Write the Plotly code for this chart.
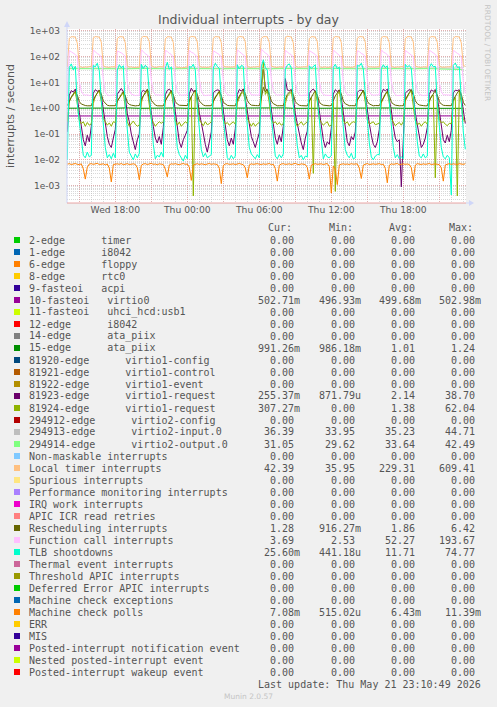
import pandas as pd
import plotly.graph_objects as go

# ---------------- data ----------------
times_10min = pd.date_range('2026-05-20 14:00', periods=200, freq='10min')
times_hourly = pd.date_range('2026-05-20 14:00', periods=34, freq='h')

local_timer = (
    [40, 510, 585, 580, 570, 330, 42, 39, 38, 40, 39, 41] +
    [41, 530, 590, 578, 565, 360, 44, 40, 39, 38, 40, 39] +
    [40, 500, 580, 585, 572, 340, 43, 39, 40, 38, 39, 40] +
    [39, 520, 600, 590, 575, 380, 45, 40, 38, 39, 41, 40] +
    [40, 480, 585, 580, 568, 350, 42, 38, 39, 36, 38, 39] +
    [40, 540, 595, 588, 570, 365, 43, 39, 40, 39, 38, 40] +
    [41, 515, 588, 583, 574, 345, 44, 40, 39, 38, 39, 40] +
    [40, 525, 592, 586, 569, 370, 42, 39, 38, 40, 39, 41] +
    [40, 505, 583, 590, 576, 355, 43, 40, 39, 38, 40, 39] +
    [39, 535, 609, 592, 571, 340, 45, 39, 38, 39, 40, 40] +
    [40, 495, 586, 581, 566, 375, 42, 38, 39, 40, 38, 39] +
    [40, 520, 590, 585, 570, 350, 43, 39, 40, 39, 38, 40] +
    [41, 510, 587, 588, 573, 360, 44, 40, 39, 38, 39, 40] +
    [40, 530, 594, 582, 568, 345, 42, 39, 38, 40, 39, 41] +
    [40, 500, 585, 589, 575, 365, 43, 40, 39, 38, 40, 39] +
    [39, 525, 591, 584, 570, 355, 44, 39, 38, 39, 40, 40] +
    [40, 515, 588, 586, 572, 340, 44, 42.39]
)

function_call = (
    [3.2, 170, 152, 135, 120, 98, 11, 4.6, 3.4, 3.2, 3.3, 3.1] +
    [3.2, 180, 148, 130, 118, 92, 13, 4.2, 3.3, 3.1, 3.2, 3.3] +
    [3.3, 165, 155, 138, 122, 100, 10, 4.8, 3.5, 3.2, 3.1, 3.2] +
    [3.1, 185, 150, 128, 115, 95, 12, 4.4, 3.3, 3.3, 3.2, 3.1] +
    [3.2, 172, 158, 132, 121, 90, 11, 4.5, 3.4, 3.2, 3.3, 3.2] +
    [3.3, 178, 146, 136, 117, 97, 14, 4.7, 3.3, 3.1, 3.2, 3.3] +
    [3.2, 168, 153, 131, 119, 93, 12, 4.3, 3.4, 3.2, 3.1, 3.2] +
    [3.1, 182, 149, 134, 116, 99, 10, 4.6, 3.3, 3.3, 3.2, 3.1] +
    [3.2, 193.67, 156, 137, 123, 96, 13, 4.9, 3.5, 3.2, 3.3, 3.2] +
    [3.3, 175, 147, 129, 118, 91, 11, 4.4, 3.3, 3.1, 3.2, 3.3] +
    [3.2, 171, 154, 133, 120, 98, 12, 4.5, 3.4, 3.2, 3.1, 3.2] +
    [3.1, 179, 151, 135, 117, 94, 10, 4.7, 3.3, 3.3, 3.2, 3.1] +
    [3.2, 167, 157, 130, 122, 97, 13, 4.3, 3.4, 3.2, 3.3, 3.2] +
    [3.3, 184, 148, 136, 119, 92, 11, 4.6, 3.3, 3.1, 3.2, 3.3] +
    [3.2, 173, 152, 132, 116, 99, 12, 4.8, 3.4, 3.2, 3.1, 3.2] +
    [3.1, 177, 155, 134, 121, 95, 10, 4.4, 3.3, 3.3, 3.2, 3.1] +
    [3.2, 176, 150, 133, 120, 93, 11, 3.69]
)

tlb_shootdowns = (
    [0.010, 38, 52, 30, 42, 1.5, 0.3, 0.05, 0.015, 0.012, 0.02, 0.013] +
    [0.015, 45, 40, 55, 28, 2.0, 0.2, 0.03, 0.012, 0.016, 0.011, 0.018] +
    [0.012, 30, 48, 36, 44, 1.2, 0.15, 0.02, 0.014, 0.010, 0.017, 0.012] +
    [0.018, 50, 34, 46, 38, 2.5, 0.4, 0.04, 0.011, 0.015, 0.013, 0.02] +
    [0.013, 35, 60, 32, 40, 1.8, 0.25, 0.03, 0.016, 0.012, 0.009, 0.015] +
    [0.011, 42, 38, 50, 30, 1.1, 0.18, 0.025, 0.013, 0.018, 0.012, 0.014] +
    [0.016, 36, 55, 41, 35, 2.2, 0.35, 0.04, 0.012, 0.010, 0.015, 0.011] +
    [0.014, 48, 33, 45, 42, 1.6, 0.2, 0.03, 0.017, 0.013, 0.011, 0.016] +
    [0.012, 40, 74.77, 38, 30, 2.8, 0.45, 0.05, 0.014, 0.011, 0.016, 0.012] +
    [0.017, 33, 46, 52, 36, 1.4, 0.22, 0.035, 0.012, 0.015, 0.010, 0.014] +
    [0.013, 44, 35, 40, 48, 2.1, 0.3, 0.04, 0.011, 0.017, 0.013, 0.012] +
    [0.015, 38, 50, 34, 39, 1.3, 0.16, 0.025, 0.015, 0.012, 0.018, 0.011] +
    [0.012, 46, 42, 55, 33, 2.4, 0.38, 0.045, 0.013, 0.010, 0.014, 0.016] +
    [0.016, 34, 48, 37, 44, 1.7, 0.24, 0.03, 0.012, 0.016, 0.011, 0.013] +
    [0.011, 50, 39, 45, 35, 2.6, 0.4, 0.05, 0.014, 0.012, 0.017, 0.012] +
    [0.014, 37, 53, 40, 42, 1.5, 0.2, 0.03, 0.013, 0.011, 0.015, 0.012] +
    [0.00044, 45, 56, 38, 40, 1.9, 0.12, 0.0256]
)

virtio1_request_a = (
    [0.12, 3.2, 4.8, 4.2, 5.5, 2.5, 0.7, 0.18, 0.06, 0.035, 0.09, 0.05] +
    [0.2, 3.8, 5.2, 4.5, 4.8, 3.0, 0.9, 0.25, 0.08, 0.04, 0.03, 0.07] +
    [0.15, 3.5, 4.6, 5.8, 4.4, 2.8, 0.6, 0.3, 0.1, 0.05, 0.025, 0.06] +
    [0.1, 4.0, 5.0, 4.3, 5.2, 2.2, 0.8, 0.2, 0.07, 0.045, 0.08, 0.04] +
    [0.18, 3.3, 4.9, 5.4, 4.6, 3.2, 0.75, 0.22, 0.05, 0.03, 0.06, 0.09] +
    [0.14, 3.6, 6.0, 4.4, 5.0, 2.6, 0.65, 0.28, 0.09, 0.04, 0.02, 0.05] +
    [0.12, 3.9, 4.7, 5.1, 4.9, 2.9, 0.85, 0.24, 0.06, 0.035, 0.07, 0.04] +
    [0.16, 3.4, 5.3, 4.6, 5.6, 2.4, 0.7, 0.2, 0.08, 0.05, 0.03, 0.06] +
    [0.11, 8.0, 38.7, 6.0, 5.0, 3.1, 0.9, 0.3, 0.07, 0.04, 0.09, 0.05] +
    [0.2, 14, 5.1, 4.8, 5.3, 2.7, 0.6, 0.25, 0.1, 0.045, 0.025, 0.07] +
    [0.13, 3.7, 4.8, 5.5, 4.5, 3.0, 0.8, 0.22, 0.06, 0.03, 0.05, 0.04] +
    [0.17, 3.5, 5.2, 4.4, 5.1, 2.5, 0.7, 0.18, 0.05, 0.035, 0.08, 0.06] +
    [0.12, 4.1, 4.9, 5.0, 4.7, 2.9, 0.75, 0.26, 0.09, 0.04, 0.03, 0.05] +
    [0.15, 3.6, 5.4, 4.7, 5.5, 2.3, 0.85, 0.2, 0.07, 0.05, 0.06, 0.0009] +
    [0.1, 3.8, 4.6, 5.2, 4.9, 3.1, 0.65, 0.24, 0.08, 0.03, 0.04, 0.07] +
    [0.18, 3.4, 5.1, 4.5, 5.3, 2.6, 0.8, 0.21, 0.06, 0.045, 0.09, 0.05] +
    [0.14, 3.9, 5.0, 4.8, 5.2, 2.7, 0.9, 0.255]
)

virtio1_request_b = (
    [0.3, 1.8, 2.6, 3.4, 4.2, 1.5, 0.35, 0.25, 0.3, 0.2, 0.28, 0.22] +
    [0.25, 1.5, 2.9, 3.8, 4.6, 1.8, 0.4, 0.3, 0.22, 0.27, 0.2, 0.3] +
    [0.28, 2.0, 2.4, 3.1, 4.0, 1.3, 0.3, 0.2, 0.26, 0.32, 0.24, 0.2] +
    [0.22, 1.6, 3.0, 3.6, 4.8, 1.6, 0.38, 0.28, 0.2, 0.25, 0.3, 0.26] +
    [0.3, 1.9, 2.7, 3.3, 4.4, 1.4, 0.33, 0.22, 0.29, 0.2, 0.25, 0.3] +
    [0.26, 1.7, 2.8, 0.0004, 4.3, 1.7, 0.36, 0.27, 0.21, 0.3, 0.23, 0.25] +
    [0.3, 1.8, 2.8, 3.2, 4.5, 1.5, 0.34, 0.24, 0.28, 0.22, 0.26, 0.3] +
    [0.24, 1.6, 2.5, 3.7, 4.1, 1.9, 0.4, 0.3, 0.2, 0.27, 0.2, 0.25] +
    [0.28, 2.1, 62.04, 3.4, 4.7, 1.6, 0.35, 0.26, 0.3, 0.23, 0.28, 0.22] +
    [0.25, 1.5, 2.9, 3.5, 4.2, 1.4, 0.3, 0.2, 0.25, 0.3, 0.22, 0.27] +
    [0.3, 1.8, 2.6, 0.003, 4.5, 1.8, 0.38, 0.28, 0.22, 0.26, 0.3, 0.2] +
    [0.22, 1.7, 0.0006, 3.3, 4.4, 1.5, 0.34, 0.25, 0.3, 0.21, 0.27, 0.3] +
    [0.28, 2.0, 2.8, 3.6, 4.9, 1.7, 0.36, 0.24, 0.26, 0.3, 0.23, 0.25] +
    [0.26, 1.6, 2.5, 3.4, 4.3, 1.6, 0.4, 0.3, 0.21, 0.25, 0.28, 0.22] +
    [0.3, 1.9, 2.7, 3.8, 4.6, 1.4, 0.33, 0.22, 0.27, 0.2, 0.26, 0.3] +
    [0.24, 1.7, 2.9, 3.2, 0.002, 1.8, 0.37, 0.27, 0.3, 0.24, 0.21, 0.26] +
    [0.25, 1.8, 2.6, 0.0004, 4.5, 1.6, 0.35, 0.307]
)

rescheduling = (
    [1.26, 1.9, 2.7, 3.6, 4.6, 3.2, 1.8, 1.45, 1.32, 1.27, 1.24, 1.25] +
    [1.24, 2.1, 3.0, 3.9, 5.1, 3.6, 1.9, 1.5, 1.3, 1.25, 1.27, 1.23] +
    [1.25, 1.8, 2.6, 3.4, 4.4, 3.0, 1.7, 1.4, 1.31, 1.26, 1.23, 1.26] +
    [1.27, 2.2, 3.2, 4.1, 5.4, 3.8, 2.0, 1.55, 1.33, 1.24, 1.26, 1.25] +
    [1.23, 1.9, 2.8, 3.7, 4.8, 3.3, 1.8, 1.45, 1.3, 1.27, 1.25, 1.24] +
    [1.26, 2.0, 2.9, 3.8, 5.0, 3.5, 1.9, 1.5, 1.32, 1.25, 1.24, 1.27] +
    [1.25, 1.8, 2.7, 3.5, 4.5, 3.1, 1.7, 1.42, 1.29, 1.26, 1.25, 1.23] +
    [1.24, 2.1, 3.1, 4.0, 5.2, 3.7, 2.0, 1.52, 1.31, 1.25, 1.27, 1.26] +
    [1.26, 2.4, 6.42, 4.3, 5.3, 3.6, 1.9, 1.5, 1.33, 1.24, 1.25, 1.25] +
    [1.25, 2.2, 3.4, 4.2, 5.0, 3.4, 1.8, 1.47, 1.3, 1.26, 1.24, 1.26] +
    [1.23, 1.9, 2.8, 3.6, 4.7, 3.2, 1.75, 1.43, 1.31, 1.27, 1.25, 1.24] +
    [1.27, 2.0, 3.0, 3.9, 5.1, 3.6, 1.9, 1.48, 1.32, 1.25, 1.26, 1.25] +
    [1.24, 2.1, 2.9, 3.8, 4.9, 3.4, 1.85, 1.46, 1.3, 1.24, 1.27, 1.26] +
    [1.26, 1.8, 2.7, 3.5, 4.6, 3.1, 1.75, 1.44, 1.31, 1.26, 1.24, 1.25] +
    [1.25, 2.2, 3.1, 4.0, 5.3, 3.7, 1.95, 1.5, 1.33, 1.25, 1.26, 1.24] +
    [1.24, 2.0, 2.8, 3.7, 4.8, 3.3, 1.8, 1.45, 1.3, 1.27, 1.25, 1.26] +
    [1.25, 2.1, 3.0, 3.9, 5.0, 3.5, 1.7, 1.28]
)

machine_check_polls = (
    [0.0068, 0.0071, 0.0066, 0.0069, 0.0072, 0.0067, 0.0065, 0.0070, 0.0045, 0.0018, 0.0052, 0.0069] +
    [0.0071, 0.0067, 0.0069, 0.0073, 0.0066, 0.0068, 0.0070, 0.0064, 0.0069, 0.0048, 0.0014, 0.0066] +
    [0.0068, 0.0070, 0.0067, 0.0072, 0.0065, 0.0069, 0.0071, 0.0066, 0.0068, 0.0070, 0.0067, 0.0050] +
    [0.0017, 0.0062, 0.0069, 0.0071, 0.0066, 0.0068, 0.0073, 0.0067, 0.0069, 0.0065, 0.0070, 0.0068] +
    [0.0066, 0.0044, 0.0022, 0.0064, 0.0070, 0.0068, 0.0071, 0.0067, 0.0065, 0.0069, 0.0072, 0.0067] +
    [0.0069, 0.0052, 0.0016, 0.0063, 0.0068, 0.0071, 0.0066, 0.0070, 0.0068, 0.0065, 0.0069, 0.0072] +
    [0.0067, 0.0070, 0.0068, 0.0066, 0.0047, 0.0012, 0.0061, 0.0069, 0.0071, 0.0067, 0.0068, 0.0070] +
    [0.0066, 0.0069, 0.0072, 0.0068, 0.0065, 0.0049, 0.0020, 0.0064, 0.0070, 0.0067, 0.0069, 0.0071] +
    [0.0068, 0.0066, 0.0070, 0.0067, 0.0069, 0.0072, 0.0065, 0.0068, 0.0046, 0.0015, 0.0062, 0.0069] +
    [0.0071, 0.0067, 0.0068, 0.0070, 0.0066, 0.0069, 0.0073, 0.0067, 0.0065, 0.0070, 0.0068, 0.0066] +
    [0.0051, 0.0018, 0.0063, 0.0069, 0.0071, 0.0067, 0.0068, 0.0070, 0.0066, 0.0069, 0.0072, 0.0055] +
    [0.00052, 0.0058, 0.0044, 0.0011, 0.0064, 0.0068, 0.0070, 0.0067, 0.0069, 0.0066, 0.0071, 0.0068] +
    [0.0067, 0.0070, 0.0048, 0.0019, 0.0063, 0.0069, 0.0072, 0.0066, 0.0068, 0.0070, 0.0067, 0.0069] +
    [0.0071, 0.0066, 0.0068, 0.0047, 0.0013, 0.0062, 0.0070, 0.0067, 0.0069, 0.0072, 0.0065, 0.0068] +
    [0.0070, 0.0067, 0.0069, 0.0066, 0.0050, 0.0016, 0.0063, 0.0071, 0.0068, 0.0066, 0.0070, 0.0067] +
    [0.0069, 0.0072, 0.0066, 0.0068, 0.0070, 0.0067, 0.0065, 0.0049, 0.0015, 0.0064, 0.0069, 0.0071] +
    [0.0067, 0.0070, 0.0068, 0.0066, 0.0071, 0.0069, 0.0067, 0.00708]
)

virtio0 = [0.500, 0.499, 0.501, 0.498, 0.500, 0.502, 0.499, 0.500, 0.497, 0.501, 0.500, 0.499,
           0.502, 0.500, 0.498, 0.501, 0.499, 0.500, 0.503, 0.499, 0.500, 0.498, 0.501, 0.500,
           0.499, 0.502, 0.500, 0.498, 0.501, 0.499, 0.500, 0.501, 0.499, 0.503]
ata_piix = [1.00, 1.02, 0.99, 1.01, 1.00, 1.03, 0.99, 1.01, 1.00, 1.02, 0.99, 1.00,
            1.01, 1.00, 1.02, 0.99, 1.01, 1.00, 1.03, 0.99, 1.00, 1.01, 1.00, 1.02,
            0.99, 1.01, 1.00, 1.02, 0.99, 1.00, 1.01, 1.00, 1.02, 0.99]
virtio2_input = [35.6, 35.2, 35.8, 35.0, 35.5, 35.1, 35.9, 35.0, 35.4, 35.2, 35.7, 34.9,
                 35.6, 35.3, 35.8, 35.0, 35.5, 35.2, 35.9, 35.0, 35.4, 35.2, 35.7, 35.1,
                 35.6, 35.2, 35.8, 35.0, 35.5, 35.2, 35.8, 35.1, 35.6, 36.39]
virtio2_output = [33.9, 33.4, 34.1, 33.3, 33.8, 33.5, 34.2, 33.3, 33.7, 33.5, 34.0, 33.2,
                  33.9, 33.5, 34.1, 33.3, 33.8, 33.4, 34.2, 33.3, 33.7, 33.5, 34.0, 33.4,
                  33.9, 33.4, 34.1, 33.3, 33.8, 33.5, 34.1, 33.3, 33.9, 31.05]

# axis ticks
y_tick_values = [1e-3, 1e-2, 1e-1, 1e0, 1e1, 1e2, 1e3]
y_tick_labels = ['1e-03', '1e-02', '1e-01', '1e+00', '1e+01', '1e+02', '1e+03']
x_tick_values = ['2026-05-20 15:00', '2026-05-20 18:00', '2026-05-20 21:00', '2026-05-21 00:00',
                 '2026-05-21 03:00', '2026-05-21 06:00', '2026-05-21 09:00', '2026-05-21 12:00',
                 '2026-05-21 15:00', '2026-05-21 18:00', '2026-05-21 21:00']
x_tick_labels = ['', 'Wed 18:00', '', 'Thu 00:00', '', 'Thu 06:00', '', 'Thu 12:00', '', 'Thu 18:00', '']

# legend table
legend_labels = [
    '2-edge      timer', '1-edge      i8042', '6-edge      floppy', '8-edge      rtc0',
    '9-fasteoi   acpi', '10-fasteoi   virtio0', '11-fasteoi   uhci_hcd:usb1',
    '12-edge      i8042', '14-edge      ata_piix', '15-edge      ata_piix',
    '81920-edge      virtio1-config', '81921-edge      virtio1-control',
    '81922-edge      virtio1-event', '81923-edge      virtio1-request',
    '81924-edge      virtio1-request', '294912-edge      virtio2-config',
    '294913-edge      virtio2-input.0', '294914-edge      virtio2-output.0',
    'Non-maskable interrupts', 'Local timer interrupts', 'Spurious interrupts',
    'Performance monitoring interrupts', 'IRQ work interrupts', 'APIC ICR read retries',
    'Rescheduling interrupts', 'Function call interrupts', 'TLB shootdowns',
    'Thermal event interrupts', 'Threshold APIC interrupts', 'Deferred Error APIC interrupts',
    'Machine check exceptions', 'Machine check polls', 'ERR', 'MIS',
    'Posted-interrupt notification event', 'Nested posted-interrupt event',
    'Posted-interrupt wakeup event']
Z = '0.00'
legend_cur = [Z, Z, Z, Z, Z, '502.71m', Z, Z, Z, '991.26m', Z, Z, Z, '255.37m', '307.27m', Z,
              '36.39', '31.05', Z, '42.39', Z, Z, Z, Z, '1.28', '3.69', '25.60m', Z, Z, Z, Z,
              '7.08m', Z, Z, Z, Z, Z]
legend_min = [Z, Z, Z, Z, Z, '496.93m', Z, Z, Z, '986.18m', Z, Z, Z, '871.79u', Z, Z,
              '33.95', '29.62', Z, '35.95', Z, Z, Z, Z, '916.27m', '2.53', '441.18u', Z, Z, Z, Z,
              '515.02u', Z, Z, Z, Z, Z]
legend_avg = [Z, Z, Z, Z, Z, '499.68m', Z, Z, Z, '1.01', Z, Z, Z, '2.14', '1.38', Z,
              '35.23', '33.64', Z, '229.31', Z, Z, Z, Z, '1.86', '52.27', '11.71', Z, Z, Z, Z,
              '6.43m', Z, Z, Z, Z, Z]
legend_max = [Z, Z, Z, Z, Z, '502.98m', Z, Z, Z, '1.24', Z, Z, Z, '38.70', '62.04', Z,
              '44.71', '42.49', Z, '609.41', Z, Z, Z, Z, '6.42', '193.67', '74.77', Z, Z, Z, Z,
              '11.39m', Z, Z, Z, Z, Z]

# ---------------- styles ----------------
palette = ['#00CC00', '#0066B3', '#FF8000', '#FFCC00', '#330099', '#990099', '#CCFF00', '#FF0000',
           '#808080', '#008F00', '#00487D', '#B35A00', '#B38F00', '#6B006B', '#8FB300', '#B30000',
           '#BEBEBE', '#80FF80', '#80C9FF', '#FFC080', '#FFE680', '#AA80FF', '#EE00CC', '#FF8080',
           '#666600', '#FFBFFF', '#00FFCC', '#CC6699', '#999900']
row_colors = [palette[i % len(palette)] for i in range(len(legend_labels))]

W, H = 497, 707
L, R, T, B = 67, 31, 29, 504
PW, PH = W - L - R, H - T - B
TXT = '#555555'
MONO = 'DejaVu Sans Mono'
SANS = 'DejaVu Sans'
MAJOR = 'rgba(230,140,140,0.55)'
MINOR = 'rgba(185,185,185,0.55)'
AXISC = '#CFD6F8'


def px(x):
    return (x - L) / PW


def py(y):
    return 1 - (y - T) / PH


def note(x, y, text, size, family=MONO, color=TXT, xanchor='left', angle=0):
    return dict(x=px(x), y=py(y), xref='paper', yref='paper', text=text, showarrow=False,
                font=dict(family=family, size=size, color=color), xanchor=xanchor,
                yanchor='middle', textangle=angle)


fig = go.Figure()

series = [
    (times_hourly, virtio0, 5),
    (times_hourly, ata_piix, 9),
    (times_10min, virtio1_request_a, 13),
    (times_10min, virtio1_request_b, 14),
    (times_hourly, virtio2_input, 16),
    (times_hourly, virtio2_output, 17),
    (times_10min, local_timer, 19),
    (times_10min, rescheduling, 24),
    (times_10min, function_call, 25),
    (times_10min, tlb_shootdowns, 26),
    (times_10min, machine_check_polls, 31),
]
for xs, ys, idx in series:
    fig.add_trace(go.Scatter(x=list(xs), y=ys, mode='lines', name=legend_labels[idx],
                             line=dict(color=row_colors[idx], width=1), showlegend=False,
                             hoverinfo='skip'))

annotations = []
shapes = []

annotations.append(note(248.5, 19.5, 'Individual interrupts - by day', 12.5, SANS, xanchor='center'))
annotations.append(note(487.5, 53, 'RRDTOOL / TOBI OETIKER', 7.5, SANS, '#C4C4C4', 'center', 90))

for label, xl in zip(['Cur:', 'Min:', 'Avg:', 'Max:'], [266, 326.7, 386.7, 446.7]):
    annotations.append(note(xl, 227.5, label, 10))

col_right = [301.7, 362.7, 422.7, 482.7]
for j, lab in enumerate(legend_labels):
    yc = 240 + 12 * j
    shapes.append(dict(type='rect', xref='paper', yref='paper', x0=px(14), x1=px(20),
                       y0=py(yc - 3), y1=py(yc + 3), fillcolor=row_colors[j],
                       line=dict(width=0), layer='above'))
    annotations.append(note(26.5, yc, lab.replace(' ', '\u00a0'), 10))
    for col, vals in enumerate([legend_cur, legend_min, legend_avg, legend_max]):
        v = vals[j]
        xr = col_right[col] - (0 if v[-1].isalpha() else 6.0)
        annotations.append(note(xr, yc, v, 10, xanchor='right'))

annotations.append(note(482.7, 684, 'Last update: Thu May 21 23:10:49 2026', 10, xanchor='right'))
annotations.append(note(248, 696, 'Munin 2.0.57', 7.5, SANS, '#C4C4C4', 'center'))

# axis lines and arrows
shapes.append(dict(type='line', xref='paper', yref='paper', x0=px(67), x1=px(67),
                   y0=py(203), y1=py(24), line=dict(color=AXISC, width=1), layer='above'))
shapes.append(dict(type='line', xref='paper', yref='paper', x0=px(466), x1=px(470),
                   y0=py(203), y1=py(203), line=dict(color=AXISC, width=1), layer='above'))
shapes.append(dict(type='line', xref='paper', yref='paper', x0=px(67), x1=px(466),
                   y0=py(203), y1=py(203), line=dict(color='rgba(225,130,130,0.7)', width=1),
                   layer='above'))
shapes.append(dict(type='path', xref='paper', yref='paper',
                   path='M {},{} L {},{} L {},{} Z'.format(px(64), py(27), px(70), py(27), px(67), py(21)),
                   fillcolor=AXISC, line=dict(color=AXISC, width=0), layer='above'))
shapes.append(dict(type='path', xref='paper', yref='paper',
                   path='M {},{} L {},{} L {},{} Z'.format(px(469), py(200), px(469), py(206), px(474), py(203)),
                   fillcolor=AXISC, line=dict(color=AXISC, width=0), layer='above'))

fig.update_layout(
    width=W, height=H,
    margin=dict(l=L, r=R, t=T, b=B, pad=0, autoexpand=False),
    paper_bgcolor='#F0F0F0', plot_bgcolor='#FFFFFF',
    showlegend=False,
    annotations=annotations,
    shapes=shapes,
    xaxis=dict(type='date', range=['2026-05-20 13:58:30', '2026-05-21 23:13:30'],
               tickmode='array', tickvals=x_tick_values, ticktext=x_tick_labels,
               showgrid=True, gridcolor=MAJOR, griddash='1px,1px', gridwidth=1,
               zeroline=False, showline=False, ticks='',
               tickfont=dict(family=SANS, size=9.2, color=TXT),
               minor=dict(dtick=3600000, tick0='2026-05-20 00:00', showgrid=True,
                          gridcolor=MINOR, griddash='1px,1px', ticks='')),
    yaxis=dict(type='log', range=[-3.67, 3.066],
               tickmode='array', tickvals=y_tick_values, ticktext=y_tick_labels,
               showgrid=True, gridcolor=MAJOR, griddash='1px,1px', gridwidth=1,
               zeroline=False, showline=False, ticks='',
               ticklabelstandoff=6,
               tickfont=dict(family=SANS, size=9, color=TXT),
               title=dict(text='interrupts / second', standoff=12,
                          font=dict(family=SANS, size=11, color=TXT)),
               minor=dict(dtick='D1', showgrid=True, gridcolor=MINOR, griddash='1px,1px',
                          ticks='')),
)

fig.write_html('out.html', config={'displayModeBar': False, 'staticPlot': True},
               post_script="document.body.style.margin='0';")
